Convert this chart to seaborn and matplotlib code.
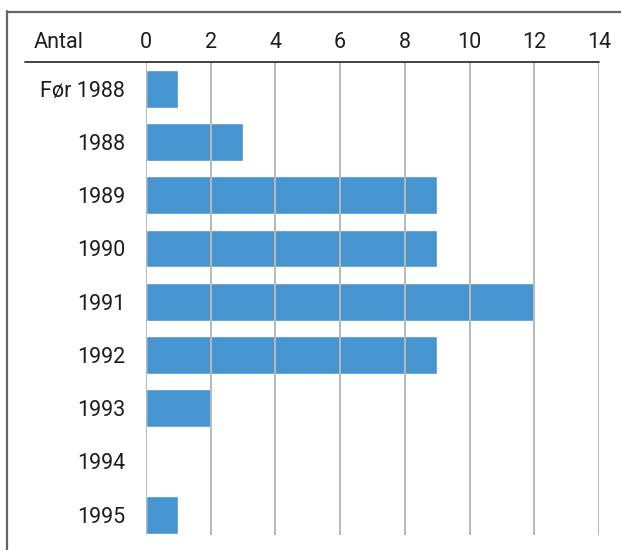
import matplotlib
matplotlib.use("Agg")
import matplotlib.pyplot as plt
from matplotlib.lines import Line2D
import seaborn as sns
import pandas as pd

# Antal pr. år
categories = ["Før 1988", "1988", "1989", "1990", "1991", "1992", "1993", "1994", "1995"]
values = [1, 3, 9, 9, 12, 9, 2, 0, 1]
x_ticks = [0, 2, 4, 6, 8, 10, 12, 14]

df = pd.DataFrame({"periode": categories, "antal": values})

sns.set_theme(style="white")
plt.rcParams["font.family"] = ["Roboto", "DejaVu Sans"]

W, H = 621, 550
FS = 15.5
TXT = "#1e1e1e"
fig = plt.figure(figsize=(W / 100, H / 100), dpi=100)
ax = fig.add_axes([146 / W, 1 - 535 / H, (599 - 146) / W, (535 - 62) / H])

sns.barplot(data=df, x="antal", y="periode", order=categories, color="#4695d0",
            width=0.71, saturation=1, ax=ax, zorder=1)

ax.set_xlim(0, 14)
ax.set_ylim(8.38, -0.5)
ax.set_xticks(x_ticks)
ax.xaxis.tick_top()
ax.tick_params(axis="x", length=0, pad=6.5, labelsize=FS, labelcolor=TXT)
ax.tick_params(axis="y", length=0, pad=15, labelsize=FS, labelcolor=TXT)
ax.set_xlabel("")
ax.set_ylabel("")

for s in ax.spines.values():
    s.set_visible(False)

ax.grid(False)
for t in x_ticks:
    ax.axvline(t, color="#b9b9b9", lw=1.4, zorder=3)

# header rule and frame
fig.add_artist(Line2D([25 / W, 599 / W], [1 - 62 / H, 1 - 62 / H], color="#333333", lw=1.3))
fig.add_artist(Line2D([6.5 / W, 6.5 / W], [0, 1 - 11 / H], color="#666666", lw=1.6))
fig.add_artist(Line2D([6.5 / W, 1], [1 - 11.5 / H, 1 - 11.5 / H], color="#666666", lw=1.6))

fig.text(34 / W, 1 - 43 / H, "Antal", fontsize=FS, color=TXT, ha="left", va="center")

fig.savefig("out.png", dpi=100, facecolor="white")
